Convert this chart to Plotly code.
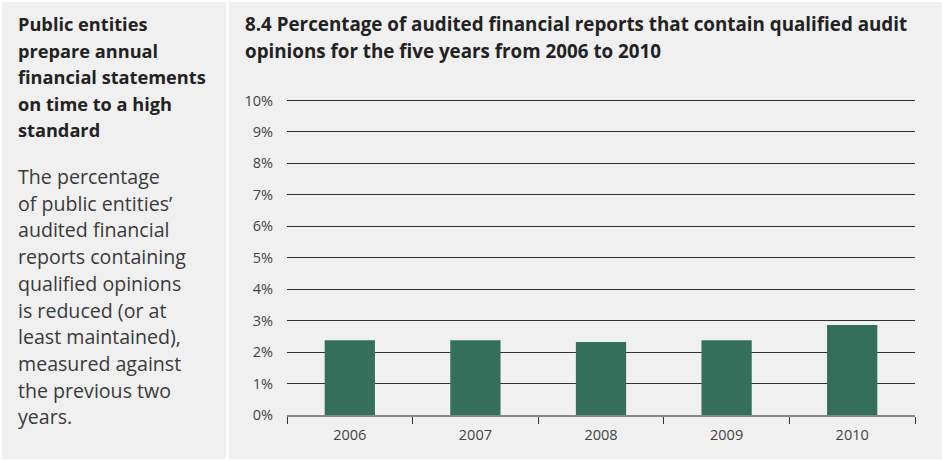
import plotly.graph_objects as go

W, H = 942, 461

years = ["2006", "2007", "2008", "2009", "2010"]
pct_qualified = [2.38, 2.38, 2.32, 2.38, 2.86]
y_ticks = [0, 1, 2, 3, 4, 5, 6, 7, 8, 9, 10]

title_lines = [
    "8.4 Percentage of audited financial reports that contain qualified audit",
    "opinions for the five years from 2006 to 2010",
]
side_head_lines = [
    "Public entities",
    "prepare annual",
    "financial statements",
    "on time to a high",
    "standard",
]
side_body_lines = [
    "The percentage",
    "of public entities’",
    "audited financial",
    "reports containing",
    "qualified opinions",
    "is reduced (or at",
    "least maintained),",
    "measured against",
    "the previous two",
    "years.",
]

FONT = "Open Sans"
BAR_COLOR = "#336f5a"
PANEL = "#f0f0f0"

Y_TOP = 10.1  # a little above 10% so the top gridline is drawn


def px(x):
    return x / W


def py(y):
    return 1 - y / H


fig = go.Figure(
    go.Bar(
        x=years,
        y=pct_qualified,
        marker=dict(color=BAR_COLOR, line=dict(width=0)),
        hoverinfo="skip",
    )
)

shapes = [
    dict(type="rect", xref="paper", yref="paper", x0=px(2), x1=px(226), y0=py(459), y1=py(2),
         fillcolor=PANEL, line=dict(width=0), layer="below"),
    dict(type="rect", xref="paper", yref="paper", x0=px(229), x1=px(942), y0=py(459), y1=py(2),
         fillcolor=PANEL, line=dict(width=0), layer="below"),
]

annotations = []
for i, t in enumerate(title_lines):
    annotations.append(dict(text=f"<b>{t}</b>", xref="paper", yref="paper", x=px(243), y=py(24 + 26.5 * i),
                            xanchor="left", yanchor="middle", showarrow=False,
                            font=dict(family=FONT, size=18.8, color="#222222")))
for i, t in enumerate(side_head_lines):
    annotations.append(dict(text=f"<b>{t}</b>", xref="paper", yref="paper", x=px(16), y=py(24 + 26.5 * i),
                            xanchor="left", yanchor="middle", showarrow=False,
                            font=dict(family=FONT, size=18.2, color="#222222")))
for i, t in enumerate(side_body_lines):
    annotations.append(dict(text=t, xref="paper", yref="paper", x=px(16), y=py(176.5 + 26.7 * i),
                            xanchor="left", yanchor="middle", showarrow=False,
                            font=dict(family=FONT, size=19.6, color="#3a3a3a")))

zero_px, ten_px = 415, 100.5
top_px = zero_px - (zero_px - ten_px) * Y_TOP / 10

fig.update_layout(
    template="none",
    width=W,
    height=H,
    autosize=False,
    margin=dict(l=0, r=0, t=0, b=0, pad=0, autoexpand=False),
    paper_bgcolor="white",
    plot_bgcolor="rgba(0,0,0,0)",
    showlegend=False,
    bargap=0.6,
    shapes=shapes,
    annotations=annotations,
    font=dict(family=FONT, color="#444444"),
    xaxis=dict(
        domain=[px(287), px(915)],
        type="category",
        automargin=False,
        tickson="boundaries",
        ticks="outside",
        ticklen=7,
        tickwidth=1,
        tickcolor="#333333",
        showline=True,
        linecolor="#888888",
        linewidth=2,
        showgrid=False,
        zeroline=False,
        tickfont=dict(family=FONT, size=14.5, color="#444444"),
        ticklabelstandoff=6,
        fixedrange=True,
    ),
    yaxis=dict(
        domain=[py(zero_px), py(top_px)],
        range=[0, Y_TOP],
        automargin=False,
        tickvals=y_ticks,
        ticktext=[f"{v}%" for v in y_ticks],
        showgrid=True,
        gridcolor="#333333",
        gridwidth=1,
        zeroline=False,
        showline=False,
        ticks="",
        tickfont=dict(family=FONT, size=14.5, color="#444444"),
        ticklabelstandoff=13,
        fixedrange=True,
    ),
)

fig.write_html(
    "out.html",
    config={"displayModeBar": False},
    post_script="document.body.style.margin='0';document.body.style.overflow='hidden';",
)
